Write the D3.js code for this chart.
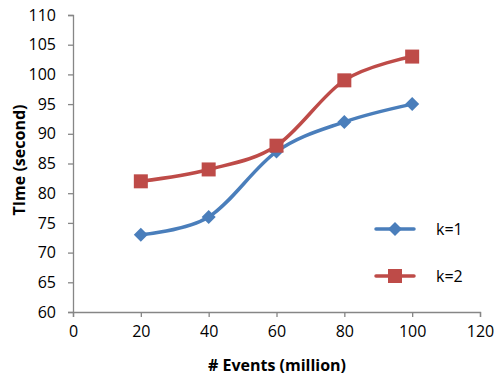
<!DOCTYPE html>
<html><head><meta charset="utf-8">
<script src="https://cdn.jsdelivr.net/npm/d3@7"></script>
<style>body{margin:0;background:#fff}svg{display:block}</style>
</head><body>
<script>
const events = [20, 40, 60, 80, 100];
const k1 = [73, 76, 87, 92, 95];
const k2 = [82, 84, 88, 99, 103];
const xTicks = [0, 20, 40, 60, 80, 100, 120];
const yTicks = [60, 65, 70, 75, 80, 85, 90, 95, 100, 105, 110];
const seriesNames = ["k=1", "k=2"];

const W = 495, H = 379;
const svg = d3.select("body").append("svg").attr("width", W).attr("height", H);
const x = d3.scaleLinear().domain([0, 120]).range([73, 480]);
const y = d3.scaleLinear().domain([60, 110]).range([312, 15]);
const font = "'Open Sans', sans-serif";
const axisColor = "#868686";

// Y axis
const ya = svg.append("g").attr("transform", "translate(73,0)")
  .call(d3.axisLeft(y).tickValues(yTicks).tickSize(5).tickPadding(12));
// X axis
const xa = svg.append("g").attr("transform", "translate(0,312)")
  .call(d3.axisBottom(x).tickValues(xTicks).tickSize(5).tickPadding(9));
[ya, xa].forEach(g => {
  g.select(".domain").attr("stroke", axisColor).attr("stroke-width", 1.3);
  g.selectAll(".tick line").attr("stroke", axisColor).attr("stroke-width", 1.3);
  g.selectAll(".tick text").attr("fill", "#000").style("font-family", font).style("font-size", "16px");
});

// titles
svg.append("text").attr("transform", "translate(25,160) rotate(-90)")
  .attr("text-anchor", "middle").style("font-family", font).style("font-size", "16px")
  .style("font-weight", "bold").text("TIme (second)");
svg.append("text").attr("x", 277).attr("y", 371)
  .attr("text-anchor", "middle").style("font-family", font).style("font-size", "16px")
  .style("font-weight", "bold").text("# Events (million)");

const colors = ["#4A7EBB", "#BE4B48"];
const line = d3.line().x((d, i) => x(events[i])).y(d => y(d)).curve(d3.curveCatmullRom.alpha(0));
const data = [k1, k2];

data.forEach((vals, si) => {
  svg.append("path").datum(vals).attr("d", line).attr("fill", "none")
    .attr("stroke", colors[si]).attr("stroke-width", 3.5).attr("stroke-linecap", "round");
});
// markers
function marker(g, si, cx, cy) {
  if (si === 0) {
    const r = 7;
    g.append("path").attr("d", `M${cx},${cy - r}L${cx + r},${cy}L${cx},${cy + r}L${cx - r},${cy}Z`)
      .attr("fill", colors[0]);
  } else {
    g.append("rect").attr("x", cx - 7).attr("y", cy - 7).attr("width", 14).attr("height", 14)
      .attr("fill", colors[1]);
  }
}
data.forEach((vals, si) => {
  const g = svg.append("g");
  vals.forEach((v, i) => marker(g, si, x(events[i]), y(v)));
});

// legend
const legY = [229, 276];
seriesNames.forEach((name, si) => {
  const g = svg.append("g");
  g.append("line").attr("x1", 376).attr("x2", 414).attr("y1", legY[si]).attr("y2", legY[si])
    .attr("stroke", colors[si]).attr("stroke-width", 3.5).attr("stroke-linecap", "round");
  marker(g, si, 395, legY[si]);
  g.append("text").attr("x", 436).attr("y", legY[si]).attr("dy", "0.35em")
    .style("font-family", font).style("font-size", "16px").text(name);
});
</script>
</body></html>
